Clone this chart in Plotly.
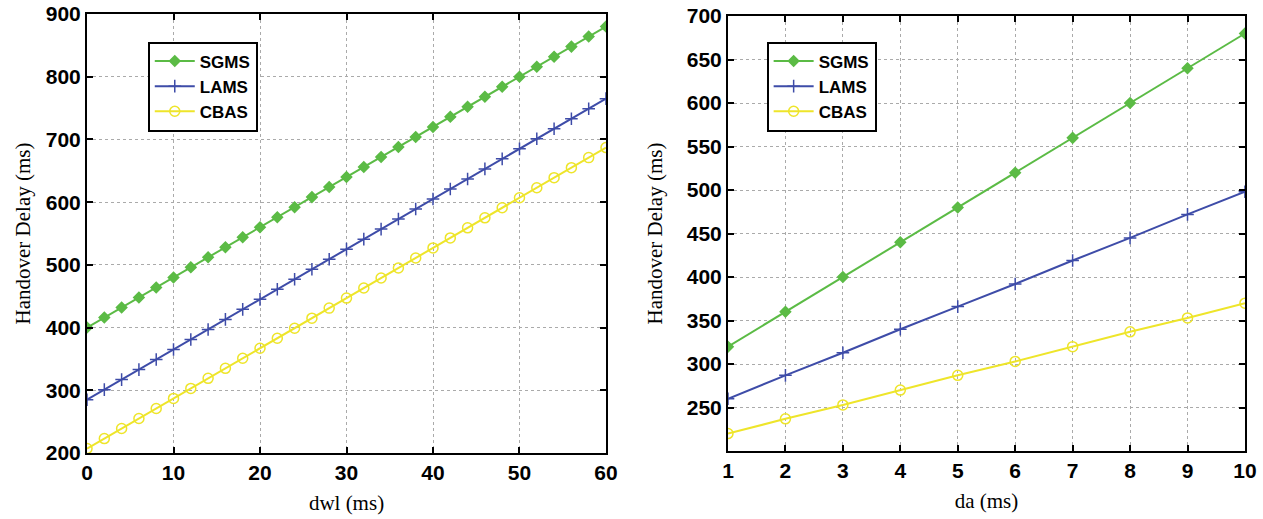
import plotly.graph_objects as go

# Left panel data
dwl = list(range(0, 61, 2))
sgms_left = [400 + 8 * x for x in dwl]
lams_left = [285 + 8 * x for x in dwl]
cbas_left = [207 + 8 * x for x in dwl]

# Right panel data
da = [1, 2, 3, 4, 5, 6, 7, 8, 9, 10]
sgms_right = [320, 360, 400, 440, 480, 520, 560, 600, 640, 680]
lams_right = [260, 287, 313, 340, 366, 392, 419, 445, 472, 498]
cbas_right = [220, 237, 253, 270, 287, 303, 320, 337, 353, 370]

left_yticks = [200, 300, 400, 500, 600, 700, 800, 900]
right_yticks = [250, 300, 350, 400, 450, 500, 550, 600, 650, 700]
left_xticks = [0, 10, 20, 30, 40, 50, 60]
right_xticks = da

GREEN = "#5BBB45"
BLUE = "#3E4CA8"
YELLOW = "#EEE52A"

fig = go.Figure()

def add_series(x, y, name, color, symbol, xa, ya, legend, msize):
    mk = dict(symbol=symbol, size=msize, color=color, line=dict(color=color, width=1.5))
    fig.add_trace(go.Scatter(x=x, y=y, name=name, mode="lines+markers",
                             line=dict(color=color, width=2), marker=mk,
                             xaxis=xa, yaxis=ya, legend=legend))

add_series(dwl, sgms_left, "SGMS", GREEN, "diamond", "x", "y", "legend", 8)
add_series(dwl, lams_left, "LAMS", BLUE, "cross-thin-open", "x", "y", "legend", 9)
add_series(dwl, cbas_left, "CBAS", YELLOW, "circle-open", "x", "y", "legend", 10)
add_series(da, sgms_right, "SGMS", GREEN, "diamond", "x2", "y2", "legend2", 8)
add_series(da, lams_right, "LAMS", BLUE, "cross-thin-open", "x2", "y2", "legend2", 9)
add_series(da, cbas_right, "CBAS", YELLOW, "circle-open", "x2", "y2", "legend2", 10)

tickfont = dict(family="Liberation Sans", size=21, color="black", weight="bold")
titlefont = dict(family="Liberation Serif", size=21, color="black")

axis_common = dict(showline=True, linecolor="black", linewidth=2, mirror="ticks",
                   ticks="inside", ticklen=6, tickwidth=1.5, tickcolor="black",
                   showgrid=True, gridcolor="#aaaaaa", griddash="dot", gridwidth=1,
                   zeroline=False, tickfont=tickfont, automargin=False)

legend_common = dict(bgcolor="white", bordercolor="black", borderwidth=2,
                     font=dict(family="Liberation Sans", size=17, color="black", weight="bold"),
                     xanchor="left", yanchor="top", tracegroupgap=0, itemwidth=40)

fig.update_layout(
    width=1263, height=519,
    margin=dict(l=0, r=0, t=0, b=0, pad=0),
    paper_bgcolor="white", plot_bgcolor="white",
    xaxis=dict(domain=[0.0689, 0.4798], range=[0, 60], tickvals=left_xticks,
               title=dict(text="dwl (ms)", font=titlefont, standoff=12), anchor="y", **axis_common),
    yaxis=dict(domain=[0.1272, 0.973], range=[200, 900], tickvals=left_yticks,
               title=dict(text="Handover Delay (ms)", font=titlefont, standoff=9), anchor="x", **axis_common),
    xaxis2=dict(domain=[0.5764, 0.9857], range=[1, 10], tickvals=right_xticks,
                title=dict(text="da (ms)", font=titlefont, standoff=12), anchor="y2", **axis_common),
    yaxis2=dict(domain=[0.131, 0.969], range=[200, 700], tickvals=right_yticks,
                title=dict(text="Handover Delay (ms)", font=titlefont, standoff=18), anchor="x2", **axis_common),
    legend=dict(x=0.117, y=0.92, **legend_common),
    legend2=dict(x=0.607, y=0.92, **legend_common),
)

fig.write_html("out.html", config={"displayModeBar": False},
               post_script="document.body.style.margin='0';document.body.style.overflow='hidden';")
